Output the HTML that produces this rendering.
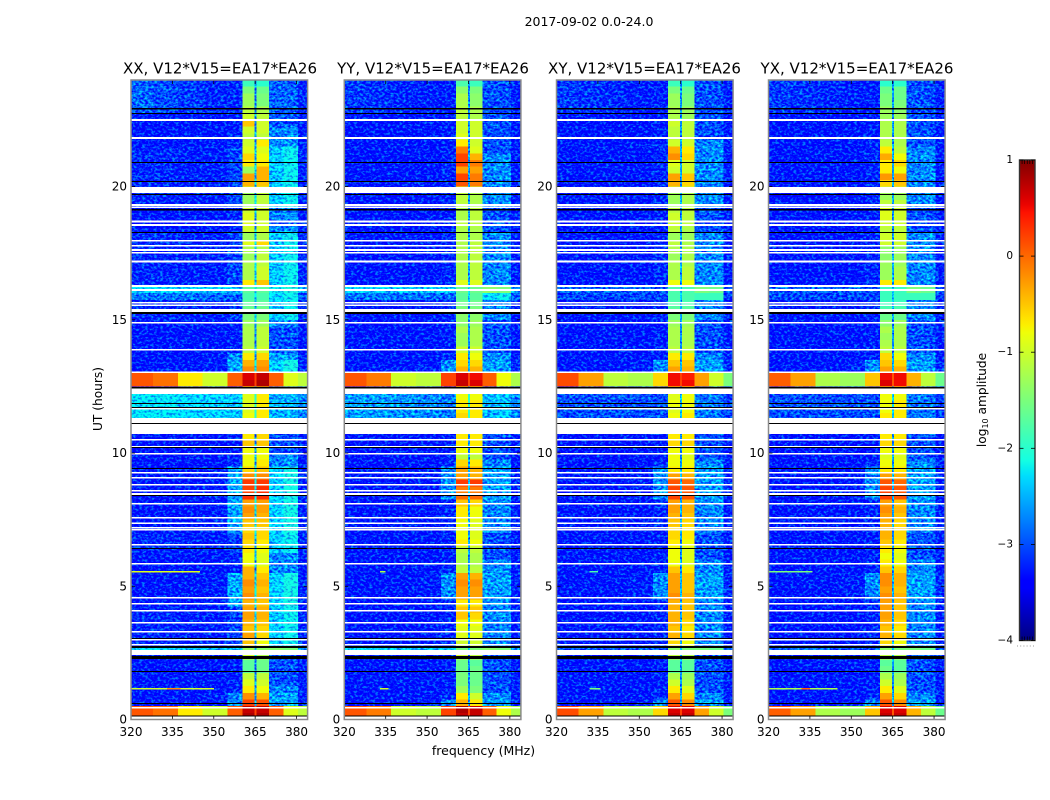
<!DOCTYPE html>
<html lang="en">
<head>
<meta charset="utf-8">
<title>2017-09-02 0.0-24.0</title>
<style>
html,body{margin:0;padding:0;background:#fff;width:1050px;height:800px;overflow:hidden}
svg{display:block}
text{font-family:"DejaVu Sans","Liberation Sans",sans-serif;fill:#000}
</style>
</head>
<body>
<svg id="chart" width="1050" height="800" viewBox="0 0 1050 800" xmlns="http://www.w3.org/2000/svg">
  <defs>
    <filter id="speckle" x="0" y="0" width="1" height="1" color-interpolation-filters="sRGB">
      <feTurbulence type="fractalNoise" baseFrequency="0.33 0.45" numOctaves="2" seed="7" result="n"/>
      <feColorMatrix in="n" type="matrix" result="m" values="0 0 0 0 0.5  2 0 0 0 -0.5  0 0 0 0 0.5  0 0 0 0 1"/>
      <feComposite in="SourceGraphic" in2="m" operator="arithmetic" k1="0" k2="1" k3="0.9" k4="-0.45" result="c"/>
      <feComposite in="c" in2="SourceGraphic" operator="in"/>
    </filter>
    <linearGradient id="jet-gradient" x1="0" y1="1" x2="0" y2="0"></linearGradient>
  </defs>
  <text x="589" y="26" font-size="12.5" text-anchor="middle">2017-09-02 0.0-24.0</text>
  <text x="483.5" y="755" font-size="12.5" text-anchor="middle">frequency (MHz)</text>
  <text x="0" y="0" font-size="12.2" text-anchor="middle" transform="translate(102 399) rotate(-90)">UT (hours)</text>
  <text x="0" y="0" font-size="12.2" text-anchor="middle" transform="translate(986 400) rotate(-90)">log<tspan font-size="8" dy="2">10</tspan><tspan dy="-2"> amplitude</tspan></text>
  <g id="panels"></g>
  <g id="colorbar"></g>
</svg>
<script>
/* ---------- data ---------- */
const panelTitles = ["XX, V12*V15=EA17*EA26","YY, V12*V15=EA17*EA26","XY, V12*V15=EA17*EA26","YX, V12*V15=EA17*EA26"];
const xTickValues = [320,335,350,365,380];
const yTickValues = [0,5,10,15,20];
const colorbarTicks = [1,0,-1,-2,-3,-4];
const colorbarLabels = ["1","0","\u22121","\u22122","\u22123","\u22124"];
const rowHours = 0.25;
/* frequency band edges in MHz */
const freqEdges = [320,328,337,346,355,360.4,364.8,365.5,370,375.2,380.5,384];
/* log10 amplitude for the off-band columns: 320-328, 328-337, 337-346, 346-355, 355-360.4, notch, 370-375.2, 375.2-380.5, 380.5-384 */
const backgroundSpectra = [
 [-3.3,-3.3,-3.3,-3.3,-3.25,-2.7,-3.0,-3.0,-3.25],
 [-2.9,-3.0,-3.1,-3.2,-3.2,-2.7,-2.9,-2.9,-3.2],
 [-3.3,-3.3,-3.3,-3.3,-3.2,-2.6,-2.75,-2.7,-3.25],
 [-3.2,-3.2,-3.25,-3.25,-3.05,-2.4,-2.4,-2.2,-3.2],
 [-3.3,-3.3,-3.3,-3.25,-2.7,-2.5,-2.6,-2.6,-3.2],
 [-2.25,-2.25,-2.3,-2.35,-2.4,-2.0,-2.5,-2.5,-2.75],
 [-2.6,-2.6,-2.65,-2.7,-2.8,-2.0,-2.5,-2.4,-2.7],
 [-3.0,-3.0,-3.0,-3.0,-3.0,-2.4,-2.8,-2.8,-3.1],
 [-2.3,-2.3,-2.35,-2.35,-2.4,-2.2,-2.2,-2.1,-2.6],
 [-2.35,-2.35,-2.4,-2.4,-2.4,-2.2,-1.4,-1.5,-2.6],
 [0.1,-0.05,-0.7,-1.0,0.05,0.2,0.05,-0.9,-1.1],
 [0.1,-0.1,-1.0,-1.1,0.2,0.2,0.05,-0.8,-1.2],
 [0.15,-0.3,-1.1,-1.2,-0.6,0.2,-0.3,-1.0,-1.5],
 [0.05,-0.3,-1.2,-1.3,-0.5,0.1,-0.4,-1.1,-1.6],
 [-2.9,-2.9,-2.9,-2.9,-3.0,-2.4,-1.5,-1.6,-3.0],
 [-3.3,-3.3,-3.3,-3.25,-2.55,-2.2,-2.35,-2.15,-3.2],
 [-2.8,-2.8,-2.85,-2.85,-2.9,-2.3,-2.3,-2.2,-2.9],
 [-3.05,-3.05,-3.05,-3.05,-3.05,-2.4,-1.9,-1.9,-3.1],
 [-3.1,-3.15,-3.2,-3.25,-3.25,-2.7,-3.0,-3.0,-3.25]
];
/* per-panel row classes, top (24 h) to bottom (0 h), one row per 0.25 h */
const rowClassXX = [
 1,1,1,1,1,0,0,2,2,2,3,3,3,3,3,3,
 3,3,3,2,2,0,2,3,3,3,3,3,3,3,3,8,
 16,3,3,3,2,0,0,0,0,4,15,15,10,10,0,5,
 5,5,5,0,0,0,0,0,2,2,15,15,15,15,15,15,
 15,15,15,15,3,3,3,2,2,2,15,15,15,15,15,3,
 3,3,3,3,3,9,0,0,0,0,0,2,4,4,10,10];
const rowClassYY = [
 18,18,18,18,18,0,0,0,0,0,0,2,2,2,2,2,
 2,2,2,0,0,0,0,2,2,2,2,2,2,2,2,9,
 16,2,2,2,0,0,0,0,0,2,4,4,11,11,0,6,
 6,6,6,0,0,0,0,0,0,2,4,4,4,4,4,2,
 2,2,2,2,0,0,0,0,2,2,4,4,4,4,2,2,
 2,2,2,2,2,9,0,0,0,0,0,0,2,4,11,11];
const rowClassXY = [
 18,18,18,18,18,0,0,0,0,2,2,2,2,2,2,2,
 2,2,2,0,0,0,0,2,2,2,2,2,2,2,2,14,
 17,2,2,2,0,0,0,0,0,2,4,4,12,12,0,7,
 7,7,7,0,0,0,0,0,0,2,4,4,4,4,4,2,
 2,2,2,2,0,0,0,0,2,2,4,4,4,4,2,2,
 2,2,2,2,2,14,0,0,0,0,0,0,2,4,12,12];
const rowClassYX = [
 18,18,18,18,18,0,0,0,0,0,2,2,2,2,2,2,
 2,2,2,0,0,0,0,2,2,2,2,2,2,2,2,14,
 17,2,2,2,0,0,0,0,0,2,4,4,13,13,0,7,
 7,7,7,0,0,0,0,0,0,2,4,4,4,4,4,2,
 2,2,2,2,0,0,0,0,2,2,4,4,4,4,2,2,
 2,2,2,2,2,14,0,0,0,0,0,0,2,4,13,13];
/* the two bright bands, 360.4-364.8 MHz (left) and 365.5-370 MHz (right) */
const leftBandXX = [
 -1.9,-1.5,-1.3,-1.3,-1.1,-1.0,-.5,-1.0,-1.1,-1.0,-.9,-.6,-.7,-1.3,-.3,-.4,
 -1.0,-1.3,-1.3,-1.0,-.9,-.9,-1.0,-1.3,-.9,-1.2,-1.3,-1.2,-1.2,-1.2,-.7,-1.7,
 -1.8,-1.7,-1.6,-1.5,-1.3,-1.2,-1.2,-1.2,-1.1,-.7,-.4,-.2,.6,.7,-.8,-.9,
 -.9,-.9,-.8,-.8,-.8,-.7,-.5,-.8,-.8,-.8,-.6,-.2,.25,.2,.3,-.3,
 -.2,-.3,-.5,-.6,-.5,-.6,-.7,-.8,-.8,-.4,-.4,-.2,-.3,-.2,-.4,-.3,
 -.3,-.4,-.5,-.3,-.5,-1.3,-1.0,-1.7,-1.7,-1.1,-.9,-.7,-.2,.2,.7,.8];
const rightBandXX = [
 -2.0,-1.6,-1.5,-1.5,-1.2,-1.1,-1.0,-1.0,-1.1,-.7,-.9,-.8,-.7,-.4,-.4,-.5,
 -1.0,-1.1,-1.1,-1.0,-1.0,-1.0,-1.0,-1.2,-.6,-1.2,-1.1,-1.1,-1.0,-1.0,-.5,-1.7,
 -1.8,-1.7,-1.6,-1.5,-1.3,-1.1,-1.1,-1.1,-1.0,-.6,-.3,-.2,.7,.8,-.7,-.7,
 -.7,-.7,-.7,-.7,-.6,-.6,-.5,-.8,-.8,-.7,-.5,-.2,.25,.3,.3,-.3,
 -.3,-.4,-.5,-.6,-.6,-.7,-.8,-.9,-.9,-.7,-.5,-.4,-.5,-.4,-.5,-.4,
 -.4,-.5,-.6,-.6,-.8,-1.4,-1.2,-1.6,-1.6,-1.1,-1.0,-.8,-.4,.1,.7,.8];
const leftBandYY = [
 -1.8,-1.4,-1.2,-1.2,-1.1,-1.1,-1.0,-1.0,-.9,-.7,-.1,.2,.2,-.3,.2,.1,
 -1.0,-1.1,-1.1,-1.2,-1.2,-1.1,-1.2,-1.2,-1.2,-1.2,-1.2,-1.2,-1.2,-1.2,-.9,-1.6,
 -1.7,-1.6,-1.5,-1.4,-1.4,-1.2,-1.3,-1.3,-1.0,-.7,-.6,-.4,.6,.7,-.8,-.8,
 -.7,-.7,-.6,-.6,-.6,-.7,-.7,-.8,-1.1,-.6,-.3,-.3,.25,-.1,.0,-.5,
 -.7,-.7,-.8,-.8,-.8,-.7,-1.1,-1.2,-1.2,-1.1,-.3,-.2,-.3,-.3,-.7,-.5,
 -.5,-.8,-.9,-.9,-1.0,-1.5,-1.0,-1.6,-1.6,-1.5,-1.5,-1.3,-.7,-.4,.8,.7];
const rightBandYY = [
 -1.9,-1.5,-1.4,-1.4,-1.2,-1.2,-1.0,-1.0,-1.0,-1.0,-.9,-.4,-.1,-.3,-.1,-.1,
 -1.1,-1.2,-1.2,-1.1,-1.1,-1.1,-1.2,-1.2,-1.1,-1.1,-1.1,-1.1,-1.1,-1.1,-.9,-1.6,
 -1.7,-1.6,-1.5,-1.4,-1.3,-1.2,-1.2,-1.2,-1.0,-.8,-.6,-.4,.5,.6,-.8,-.8,
 -.7,-.7,-.7,-.7,-.6,-.7,-.7,-.8,-1.1,-.7,-.4,-.4,.25,-.1,.0,-.6,
 -.8,-.8,-.9,-.9,-.9,-.8,-1.1,-1.2,-1.2,-1.1,-.4,-.2,-.3,-.3,-.7,-.5,
 -.6,-.8,-.9,-.9,-1.0,-1.5,-1.1,-1.7,-1.6,-1.6,-1.6,-1.5,-1.0,-.7,.7,.7];
const leftBandXY = [
 -1.9,-1.5,-1.3,-1.3,-1.2,-1.2,-1.0,-1.1,-1.1,-1.0,-.4,-.2,-.9,-1.0,-.3,-.4,
 -1.1,-1.3,-1.3,-1.1,-1.0,-1.0,-1.1,-1.3,-1.1,-1.2,-1.3,-1.2,-1.2,-1.2,-.8,-1.8,
 -1.8,-1.8,-1.7,-1.5,-1.3,-1.2,-1.2,-1.2,-1.1,-.7,-.5,-.3,.5,.5,-.8,-.9,
 -.8,-.9,-.8,-.8,-.8,-.7,-.6,-.8,-.8,-.8,-.7,-.3,.1,.2,.2,-.3,
 -.3,-.4,-.5,-.6,-.6,-.7,-.8,-.8,-.8,-.5,-.3,-.3,-.3,-.2,-.4,-.4,
 -.4,-.4,-.5,-.4,-.6,-1.4,-1.1,-1.7,-1.7,-1.2,-1.0,-.7,-.3,.1,.6,.7];
const rightBandXY = [
 -2.0,-1.6,-1.5,-1.5,-1.3,-1.3,-1.1,-1.1,-1.1,-1.0,-.7,-.6,-1.0,-1.0,-.5,-.6,
 -1.1,-1.2,-1.2,-1.1,-1.1,-1.1,-1.2,-1.3,-1.2,-1.2,-1.2,-1.2,-1.1,-1.1,-.8,-1.8,
 -1.8,-1.8,-1.7,-1.5,-1.3,-1.2,-1.2,-1.2,-1.1,-.7,-.5,-.4,.4,.5,-.8,-.8,
 -.8,-.8,-.7,-.7,-.7,-.7,-.6,-.8,-.9,-.8,-.7,-.4,.0,.1,.1,-.4,
 -.4,-.5,-.6,-.7,-.7,-.8,-.9,-.9,-.9,-.7,-.5,-.5,-.5,-.4,-.5,-.5,
 -.5,-.6,-.7,-.6,-.8,-1.5,-1.2,-1.7,-1.7,-1.3,-1.2,-.9,-.6,-.2,.6,.7];
const leftBandYX = [
 -2.0,-1.6,-1.5,-1.5,-1.3,-1.3,-1.2,-1.2,-1.2,-1.1,-.7,-.35,-.7,-.7,-.25,-.6,
 -1.1,-1.3,-1.1,-.9,-.9,-1.0,-1.1,-1.0,-1.0,-1.4,-1.4,-1.3,-1.3,-1.3,-.7,-1.9,
 -1.9,-1.9,-1.8,-1.6,-1.4,-1.2,-1.3,-1.2,-1.1,-.6,-.5,-.3,.5,.6,-.8,-.8,
 -.8,-.8,-.7,-.7,-.7,-.7,-.6,-.8,-.9,-.8,-.7,-.3,.1,.2,.2,-.3,
 -.2,-.3,-.4,-.4,-.4,-.5,-.7,-.8,-.7,-.5,-.2,-.2,-.3,-.2,-.3,-.3,
 -.3,-.4,-.5,-.4,-.6,-1.4,-1.1,-1.7,-1.6,-1.2,-1.0,-.7,-.3,.1,.6,.7];
const rightBandYX = [
 -2.0,-1.6,-1.6,-1.5,-1.4,-1.3,-1.2,-1.2,-1.2,-1.2,-1.1,-.8,-.6,-.8,-.3,-.5,
 -1.1,-1.3,-1.1,-1.0,-1.0,-1.0,-1.1,-1.0,-1.0,-1.3,-1.3,-1.3,-1.2,-1.2,-.7,-1.9,
 -1.9,-1.9,-1.8,-1.6,-1.3,-1.2,-1.2,-1.2,-1.1,-.8,-.6,-.4,.5,.5,-.8,-.8,
 -.7,-.7,-.7,-.7,-.7,-.7,-.6,-.8,-.9,-.8,-.7,-.4,.0,.1,.1,-.5,
 -.4,-.5,-.6,-.6,-.6,-.7,-.8,-.9,-.8,-.6,-.4,-.4,-.5,-.4,-.5,-.5,
 -.5,-.6,-.7,-.6,-.8,-1.5,-1.2,-1.7,-1.7,-1.3,-1.2,-.9,-.6,-.2,.6,.7];
/* narrow interference lines: hour, start MHz, end MHz, log10 amplitude */
const rfiXX = [[1.18,320,350,-1.0],[1.18,333,338,-.2],[5.57,320,345,-.9]];
const rfiYY = [[1.18,333,336,-1.0],[5.57,333,335,-1.2]];
const rfiXY = [[1.18,332,336,-1.5],[5.57,332,335,-1.8]];
const rfiYX = [[1.18,320,345,-1.2],[1.18,332,335,0],[5.57,320,336,-1.5]];
/* flagged time ranges in hours (top, bottom): white = no data, black = dark line */
const whiteGaps = [
 [22.53,22.48],[21.86,21.78],[19.98,19.76],[19.34,19.30],[19.25,19.20],[18.72,18.68],[18.59,18.56],
 [17.99,17.94],[17.81,17.76],[17.65,17.62],[17.54,17.50],[17.22,17.18],[16.30,16.27],[16.15,16.12],
 [15.67,15.63],[15.57,15.53],[15.40,15.29],[14.92,14.88],[13.90,13.87],[13.06,13.01],[12.42,12.21],
 [11.69,11.65],[11.31,11.13],[11.09,10.71],[10.53,10.49],[10.26,10.22],[10.00,9.96],[9.29,9.25],
 [9.10,9.06],[8.84,8.80],[8.61,8.56],[8.50,8.42],[8.12,8.09],[7.60,7.56],[7.39,7.35],[7.22,7.18],
 [7.15,7.11],[6.59,6.55],[5.87,5.83],[4.60,4.56],[4.37,4.33],[4.11,4.07],[3.66,3.62],[3.32,3.28],
 [3.02,2.98],[2.83,2.80],[2.61,2.42],[0.47,0.43],[0.13,0]];
const blackGaps = [
 [22.95,22.89],[22.76,22.72],[20.92,20.88],[20.21,20.17],[19.72,19.68],[19.16,19.10],[18.29,18.25],
 [15.29,15.22],[12.48,12.42],[11.88,11.84],[11.73,11.69],[11.13,11.09],[10.22,10.19],[9.44,9.40],
 [8.42,8.39],[6.44,6.40],[3.06,3.02],[2.76,2.68],[2.38,2.27],[1.82,1.78],[0.62,0.58],[0.15,0.13]];

const panelRowClasses = [rowClassXX,rowClassYY,rowClassXY,rowClassYX];
const panelLeftBands = [leftBandXX,leftBandYY,leftBandXY,leftBandYX];
const panelRightBands = [rightBandXX,rightBandYY,rightBandXY,rightBandYX];
const panelRfi = [rfiXX,rfiYY,rfiXY,rfiYX];
const panelNames = ["xx","yy","xy","yx"];
const speckleLimit = -2.0;

/* ---------- layout and scales ---------- */
const NS = "http://www.w3.org/2000/svg";
const panelLeft = [131,344.3,556.5,768.5];
const panelWidth = 176.6;
const panelTop = 80;
const panelBottom = 719.5;
const titleCenter = [220,433,644.5,857];
const freqMin = 320, freqMax = 384, hourMax = 24;

function xScale(p, f){ return panelLeft[p] + (f-freqMin)/(freqMax-freqMin)*panelWidth; }
function yScale(h){ return panelBottom - h/hourMax*(panelBottom-panelTop); }

function lerpStops(stops, t){
  for(let i=1;i<stops.length;i++){
    if(t<=stops[i][0]){
      const a=stops[i-1], b=stops[i];
      return a[1]+(b[1]-a[1])*(t-a[0])/(b[0]-a[0]);
    }
  }
  return stops[stops.length-1][1];
}
const jetR=[[0,0],[.35,0],[.66,1],[.89,1],[1,.5]];
const jetG=[[0,0],[.125,0],[.375,1],[.64,1],[.91,0],[1,0]];
const jetB=[[0,.5],[.11,1],[.34,1],[.65,0],[1,0]];
function jet(t){
  t=Math.max(0,Math.min(1,t));
  return "rgb("+Math.round(lerpStops(jetR,t)*255)+","+Math.round(lerpStops(jetG,t)*255)+","+Math.round(lerpStops(jetB,t)*255)+")";
}
function colorScale(v){ return jet((v+4)/5); }

function makeRect(parent,x,y,w,h,fill){
  const r=document.createElementNS(NS,"rect");
  r.setAttribute("x",x.toFixed(2));
  r.setAttribute("y",y.toFixed(2));
  r.setAttribute("width",w.toFixed(2));
  r.setAttribute("height",h.toFixed(2));
  r.setAttribute("fill",fill);
  r.setAttribute("shape-rendering","crispEdges");
  parent.appendChild(r);
  return r;
}
function makeLine(parent,x1,y1,x2,y2,color,w){
  const l=document.createElementNS(NS,"line");
  l.setAttribute("x1",x1);l.setAttribute("y1",y1);l.setAttribute("x2",x2);l.setAttribute("y2",y2);
  l.setAttribute("stroke",color);l.setAttribute("stroke-width",w);
  parent.appendChild(l);
  return l;
}
function makeText(parent,x,y,size,anchor,str){
  const t=document.createElementNS(NS,"text");
  t.setAttribute("x",x);t.setAttribute("y",y);t.setAttribute("font-size",size);t.setAttribute("text-anchor",anchor);
  t.textContent=str;
  parent.appendChild(t);
  return t;
}
function makeGroup(parent){
  const g=document.createElementNS(NS,"g");
  parent.appendChild(g);
  return g;
}

/* ---------- panels ---------- */
const panelsRoot=document.getElementById("panels");
panelTitles.forEach(function(title,p){
  const panel=makeGroup(panelsRoot);
  
  

  const heat=makeGroup(panel);
  
  
  heat.setAttribute("filter","url(#speckle)");

  const bright=makeGroup(panel);
  
  

  const classes=panelRowClasses[p], left=panelLeftBands[p], right=panelRightBands[p];
  classes.forEach(function(cls,i){
    const spec=backgroundSpectra[cls];
    const rowValues=[spec[0],spec[1],spec[2],spec[3],spec[4],left[i],spec[5],right[i],spec[6],spec[7],spec[8]];
    const hTop=hourMax-i*rowHours, hBot=hTop-rowHours;
    rowValues.forEach(function(v,c){
      const x0=xScale(p,freqEdges[c]), x1=xScale(p,freqEdges[c+1]);
      const target = v<speckleLimit ? heat : bright;
      const cell=makeRect(target,x0,yScale(hTop),x1-x0,yScale(hBot)-yScale(hTop),colorScale(v));
      
      
    });
  });

  panelRfi[p].forEach(function(line){
    const x0=xScale(p,line[1]), x1=xScale(p,line[2]);
    const mark=makeRect(bright,x0,yScale(line[0]),x1-x0,1.4,colorScale(line[3]));
    
    
  });

  whiteGaps.forEach(function(gap){
    const mark=makeRect(panel,panelLeft[p],yScale(gap[0]),panelWidth,Math.max(1.6,yScale(gap[1])-yScale(gap[0])),"#ffffff");
    
    
  });
  blackGaps.forEach(function(gap){
    const mark=makeRect(panel,panelLeft[p],yScale(gap[0]),panelWidth,Math.max(1,yScale(gap[1])-yScale(gap[0])),"#000000");
    
    
  });

  /* ticks and tick labels */
  xTickValues.forEach(function(f){
    const x=xScale(p,f);
    const b=makeLine(panel,x,panelBottom,x,panelBottom-4,"#000",0.8);
    
    
    const t=makeLine(panel,x,panelTop,x,panelTop+4,"#000",0.8);
    
    
    const lab=makeText(panel,x,736,12,"middle",String(f));
    
    
  });
  yTickValues.forEach(function(h){
    const y=yScale(h);
    const l=makeLine(panel,panelLeft[p],y,panelLeft[p]+4,y,"#000",0.8);
    
    
    const r=makeLine(panel,panelLeft[p]+panelWidth,y,panelLeft[p]+panelWidth-4,y,"#000",0.8);
    
    
    const lab=makeText(panel,panelLeft[p]-4,y+4,12,"end",String(h));
    
    
  });

  const frame=document.createElementNS(NS,"rect");
  frame.setAttribute("x",panelLeft[p]);
  frame.setAttribute("y",panelTop);
  frame.setAttribute("width",panelWidth);
  frame.setAttribute("height",panelBottom-panelTop);
  frame.setAttribute("fill","none");
  frame.setAttribute("stroke","#8a8a8a");
  frame.setAttribute("stroke-width","1.5");
  
  
  panel.appendChild(frame);

  const ttl=makeText(panel,titleCenter[p],73.5,15,"middle",title);
  
  
});

/* ---------- colorbar ---------- */
const grad=document.getElementById("jet-gradient");
for(let i=0;i<=64;i++){
  const s=document.createElementNS(NS,"stop");
  s.setAttribute("offset",(i/64).toFixed(4));
  s.setAttribute("stop-color",jet(i/64));
  grad.appendChild(s);
}
const cbRoot=document.getElementById("colorbar");
const cbX0=1019.5, cbX1=1035, cbTop=160, cbBottom=640.5;
function cbScale(v){ return cbTop+(1-v)/5*(cbBottom-cbTop); }
const cbFill=document.createElementNS(NS,"rect");
cbFill.setAttribute("x",cbX0);cbFill.setAttribute("y",cbTop);
cbFill.setAttribute("width",cbX1-cbX0);cbFill.setAttribute("height",cbBottom-cbTop);
cbFill.setAttribute("fill","url(#jet-gradient)");
cbFill.setAttribute("stroke","#333");cbFill.setAttribute("stroke-width","1.4");


cbRoot.appendChild(cbFill);
colorbarTicks.forEach(function(v,i){
  const y=cbScale(v);
  const a=makeLine(cbRoot,cbX0,y,cbX0+4,y,"#000",0.8);
  
  
  const b=makeLine(cbRoot,cbX1-4,y,cbX1,y,"#000",0.8);
  
  
  const lab=makeText(cbRoot,1013,y+3,10.5,"end",colorbarLabels[i]);
  
  
});
for(let k=1;k<=5;k++){
  const x=cbX0+k*(cbX1-cbX0)/6;
  const top=makeLine(cbRoot,x,cbTop,x,cbTop+4,"#000",0.7);
  
  
  const bot=makeLine(cbRoot,x,cbBottom,x,cbBottom-4,"#000",0.7);
  
  
}
const dots=makeLine(cbRoot,1017,646,1035,646,"#999",1);
dots.setAttribute("stroke-dasharray","1 2.2");


</script>
</body>
</html>
